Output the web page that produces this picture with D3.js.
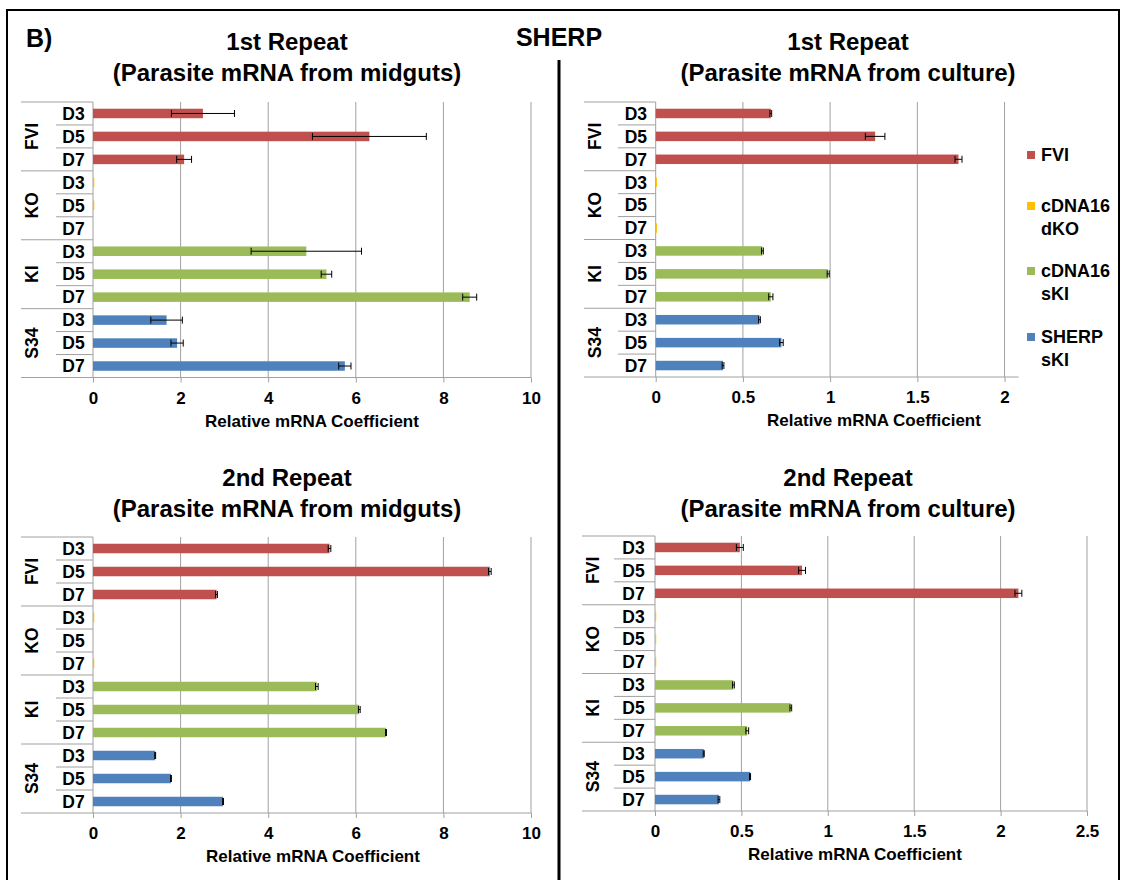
<!DOCTYPE html>
<html>
<head>
<meta charset="utf-8">
<script src="https://cdn.jsdelivr.net/npm/d3@7"></script>
<style>
  html, body { margin: 0; padding: 0; background: #fff; }
  svg { display: block; }
  text { font-family: Arial, "Liberation Sans", sans-serif; font-weight: bold; fill: #000; }
</style>
</head>
<body>
<svg id="fig" width="1123" height="880"></svg>
<script>
// Strains and sampling days (two-level category axis)
const groups = ["FVI", "KO", "KI", "S34"];
const days = ["D3", "D5", "D7"];
const groupColors = ["#c0504d", "#ffc000", "#9bbb59", "#4f81bd"];
const legendLabels = [["FVI"], ["cDNA16", "dKO"], ["cDNA16", "sKI"], ["SHERP", "sKI"]];

// Relative mRNA coefficient, ordered FVI D3..D7, KO D3..D7, KI D3..D7, S34 D3..D7
const midgutRep1 = [2.51, 6.31, 2.08, 0.03, 0.03, 0, 4.87, 5.33, 8.60, 1.68, 1.92, 5.75];
const midgutRep1Err = [0.72, 1.30, 0.17, 0, 0, 0, 1.26, 0.12, 0.16, 0.36, 0.14, 0.14];
const cultureRep1 = [0.66, 1.258, 1.736, 0.007, 0, 0.007, 0.612, 0.989, 0.66, 0.595, 0.721, 0.386];
const cultureRep1Err = [0.005, 0.056, 0.02, 0, 0, 0, 0.005, 0.006, 0.012, 0.005, 0.01, 0.005];
const midgutRep2 = [5.40, 9.06, 2.82, 0.03, 0, 0.03, 5.11, 6.08, 6.69, 1.42, 1.78, 2.97];
const midgutRep2Err = [0.03, 0.03, 0.02, 0, 0, 0, 0.03, 0.02, 0.01, 0.01, 0.01, 0.01];
const cultureRep2 = [0.491, 0.851, 2.103, 0.007, 0.007, 0.007, 0.454, 0.786, 0.534, 0.282, 0.550, 0.370];
const cultureRep2Err = [0.02, 0.02, 0.02, 0, 0, 0, 0.005, 0.005, 0.008, 0.003, 0.003, 0.005];

// Axis ticks
const ticksMidgut = [0, 2, 4, 6, 8, 10];
const ticksCulture1 = [0, 0.5, 1, 1.5, 2];
const ticksCulture2 = [0, 0.5, 1, 1.5, 2, 2.5];

const axisTitle = "Relative mRNA Coefficient";
const GRID = "#a0a0a0";

const svg = d3.select("#fig");

// Figure frame, panel letter, gene name and divider
svg.append("rect").attr("x", 7).attr("y", 10).attr("width", 1112).attr("height", 880)
  .attr("fill", "none").attr("stroke", "#000").attr("stroke-width", 2);
svg.append("line").attr("x1", 559).attr("x2", 559).attr("y1", 60).attr("y2", 880)
  .attr("stroke", "#000").attr("stroke-width", 3);
svg.append("text").attr("x", 26).attr("y", 47).attr("font-size", 25).text("B)");
svg.append("text").attr("x", 559).attr("y", 46).attr("font-size", 25)
  .attr("text-anchor", "middle").text("SHERP");

const panels = [
  { t1: "1st Repeat", t2: "(Parasite mRNA from midguts)", tx: 287, ty: 50,
    values: midgutRep1, errs: midgutRep1Err, domain: [0, 10], range: [93, 531], ticks: ticksMidgut,
    top: 102, bottom: 377.5, leftLine: 21, innerLine: 56, groupX: 32, atx: 312, aty: 427 },
  { t1: "1st Repeat", t2: "(Parasite mRNA from culture)", tx: 848, ty: 50,
    values: cultureRep1, errs: cultureRep1Err, domain: [0, 2.08], range: [655.7, 1018.5], ticks: ticksCulture1,
    top: 102, bottom: 377, leftLine: 584, innerLine: 618, groupX: 595, atx: 874, aty: 426 },
  { t1: "2nd Repeat", t2: "(Parasite mRNA from midguts)", tx: 287, ty: 486,
    values: midgutRep2, errs: midgutRep2Err, domain: [0, 10], range: [93, 531], ticks: ticksMidgut,
    top: 537, bottom: 813, leftLine: 21, innerLine: 56, groupX: 32, atx: 313, aty: 862 },
  { t1: "2nd Repeat", t2: "(Parasite mRNA from culture)", tx: 848, ty: 486,
    values: cultureRep2, errs: cultureRep2Err, domain: [0, 2.5], range: [655, 1087], ticks: ticksCulture2,
    top: 536, bottom: 811, leftLine: 582, innerLine: 614, groupX: 593, atx: 855, aty: 860 }
];

function drawPanel(p) {
  const g = svg.append("g");
  const rows = d3.range(groups.length * days.length);
  const x = d3.scaleLinear().domain(p.domain).range(p.range);
  const y = d3.scaleBand().domain(rows).range([p.top, p.bottom]);
  const groupBand = d3.scaleBand().domain(groups).range([p.top, p.bottom]);
  const barH = 9.5;

  // Titles
  g.append("text").attr("x", p.tx).attr("y", p.ty).attr("font-size", 24)
    .attr("text-anchor", "middle").text(p.t1);
  g.append("text").attr("x", p.tx).attr("y", p.ty + 31).attr("font-size", 24)
    .attr("text-anchor", "middle").text(p.t2);

  // Vertical gridlines
  g.selectAll(".grid").data(p.ticks.filter(t => t > 0)).join("line")
    .attr("x1", d => x(d)).attr("x2", d => x(d))
    .attr("y1", p.top).attr("y2", p.bottom)
    .attr("stroke", GRID).attr("stroke-width", 1);

  // Value axis
  const ax = g.append("g").attr("transform", `translate(0,${p.bottom})`)
    .call(d3.axisBottom(x).tickValues(p.ticks).tickSize(5).tickPadding(9)
      .tickFormat(d => String(d)).tickSizeOuter(0));
  ax.select(".domain").remove();
  ax.selectAll(".tick line").attr("stroke", GRID);
  ax.selectAll(".tick text").attr("font-size", 17).attr("font-family", "Arial, 'Liberation Sans', sans-serif")
    .attr("font-weight", "bold").attr("fill", "#000");
  g.append("line").attr("x1", p.leftLine).attr("x2", x.range()[1])
    .attr("y1", p.bottom).attr("y2", p.bottom).attr("stroke", GRID);

  // Category axis: base line, row separators and group separators
  g.append("line").attr("x1", x(0)).attr("x2", x(0)).attr("y1", p.top).attr("y2", p.bottom)
    .attr("stroke", GRID);
  g.selectAll(".rowsep").data(rows).join("line")
    .attr("x1", d => (d % days.length === 0) ? p.leftLine : p.innerLine)
    .attr("x2", x(0))
    .attr("y1", d => y(d)).attr("y2", d => y(d))
    .attr("stroke", GRID);

  // Day labels
  g.selectAll(".day").data(rows).join("text")
    .attr("x", (p.innerLine + x(0)) / 2 - 1)
    .attr("y", d => y(d) + y.bandwidth() / 2)
    .attr("dy", "0.36em")
    .attr("text-anchor", "middle")
    .attr("font-size", 17.5)
    .text(d => days[d % days.length]);

  // Strain labels (rotated)
  g.selectAll(".grp").data(groups).join("text")
    .attr("transform", d => `translate(${p.groupX},${groupBand(d) + groupBand.bandwidth() / 2}) rotate(-90)`)
    .attr("text-anchor", "middle").attr("dy", "0.36em")
    .attr("font-size", 17.5)
    .text(d => d);

  // Bars
  g.selectAll(".bar").data(rows).join("rect")
    .attr("x", x(0))
    .attr("y", d => y(d) + (y.bandwidth() - barH) / 2)
    .attr("width", d => Math.max(0, x(p.values[d]) - x(0)))
    .attr("height", barH)
    .attr("fill", d => groupColors[Math.floor(d / days.length)]);

  // Error bars
  const eb = g.selectAll(".err").data(rows.filter(d => p.errs[d] > 0)).join("g");
  const cy = d => y(d) + y.bandwidth() / 2;
  eb.append("line")
    .attr("x1", d => x(p.values[d] - p.errs[d])).attr("x2", d => x(p.values[d] + p.errs[d]))
    .attr("y1", cy).attr("y2", cy).attr("stroke", "#000").attr("stroke-width", 1);
  eb.append("line")
    .attr("x1", d => x(p.values[d] - p.errs[d])).attr("x2", d => x(p.values[d] - p.errs[d]))
    .attr("y1", d => cy(d) - 3.5).attr("y2", d => cy(d) + 3.5).attr("stroke", "#000");
  eb.append("line")
    .attr("x1", d => x(p.values[d] + p.errs[d])).attr("x2", d => x(p.values[d] + p.errs[d]))
    .attr("y1", d => cy(d) - 3.5).attr("y2", d => cy(d) + 3.5).attr("stroke", "#000");

  // Axis title
  g.append("text").attr("x", p.atx).attr("y", p.aty).attr("font-size", 17)
    .attr("text-anchor", "middle").text(axisTitle);
}

panels.forEach(drawPanel);

// Legend
const legendY = [155, 206, 271, 337];
const lg = svg.append("g");
groups.forEach((gname, i) => {
  lg.append("rect").attr("x", 1027).attr("y", legendY[i] - 4).attr("width", 8).attr("height", 8)
    .attr("fill", groupColors[i]);
  legendLabels[i].forEach((line, j) => {
    lg.append("text").attr("x", 1041).attr("y", legendY[i] + j * 23).attr("dy", "0.36em")
      .attr("font-size", 18).text(line);
  });
});
</script>
</body>
</html>
